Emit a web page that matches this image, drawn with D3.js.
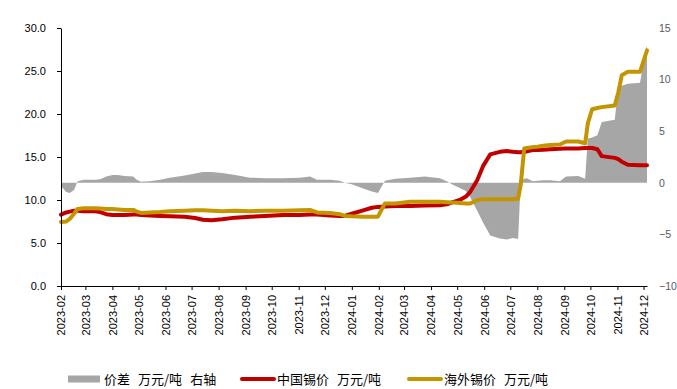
<!DOCTYPE html>
<html><head><meta charset="utf-8">
<script src="https://cdn.jsdelivr.net/npm/d3@7"></script>
<style>
html,body{margin:0;padding:0;background:#fff;}
svg{display:block;}
</style></head>
<body>
<svg id="chart" width="677" height="389"></svg>
<script>
const dates = ["2023-02-01","2023-02-07","2023-02-11","2023-02-16","2023-02-20","2023-02-27","2023-03-12","2023-03-18","2023-03-25","2023-04-01",
"2023-04-07","2023-04-15","2023-04-25","2023-04-29","2023-05-04","2023-05-14","2023-05-26","2023-06-06","2023-06-23","2023-07-05",
"2023-07-14","2023-07-24","2023-08-05","2023-08-20","2023-09-06","2023-09-23","2023-10-14","2023-11-02","2023-11-14","2023-11-22",
"2023-12-07","2023-12-18","2023-12-24","2024-01-01","2024-01-14","2024-01-24","2024-01-31","2024-02-08","2024-02-20","2024-03-08",
"2024-03-25","2024-04-11","2024-04-19","2024-04-26","2024-05-04","2024-05-11","2024-05-16","2024-05-24","2024-05-31","2024-06-08",
"2024-06-19","2024-06-27","2024-07-04","2024-07-10","2024-07-13","2024-07-17","2024-07-20","2024-07-27","2024-08-01","2024-08-08",
"2024-08-16","2024-08-27","2024-09-03","2024-09-17","2024-09-25","2024-09-28","2024-10-03","2024-10-09","2024-10-14","2024-10-29",
"2024-11-02","2024-11-06","2024-11-13","2024-11-27","2024-12-03","2024-12-05"];

const china = [8.3,8.55,8.65,8.75,8.75,8.7,8.7,8.6,8.35,8.25,
8.25,8.25,8.3,8.3,8.25,8.2,8.15,8.1,8.05,7.9,
7.7,7.65,7.75,7.95,8.05,8.15,8.25,8.25,8.3,8.3,
8.2,8.15,8.15,8.4,8.8,9.1,9.2,9.25,9.3,9.3,
9.35,9.4,9.5,9.75,10.0,10.4,10.95,12.3,14.0,15.3,
15.6,15.7,15.6,15.55,15.55,15.6,15.65,15.8,15.8,15.85,
15.9,15.95,16.0,16.0,16.05,16.05,16.05,15.9,15.1,14.9,
14.75,14.45,14.1,14.05,14.05,14.05];

const overseas = [7.45,7.5,7.8,8.4,8.95,9.05,9.05,9.0,8.95,8.95,
8.9,8.85,8.85,8.65,8.5,8.55,8.6,8.7,8.75,8.8,
8.8,8.75,8.7,8.75,8.7,8.75,8.75,8.8,8.85,8.55,
8.5,8.35,8.15,8.1,8.06,8.06,8.06,9.6,9.6,9.8,
9.8,9.8,9.75,9.7,9.65,9.6,9.6,10.0,10.1,10.1,
10.1,10.1,10.1,10.15,11.8,16.0,16.05,16.15,16.2,16.3,
16.4,16.45,16.8,16.8,16.6,18.9,20.55,20.7,20.8,21.0,
22.5,24.5,24.9,24.9,26.8,27.4];

const spread = [-0.3,-0.9,-1.0,-0.7,0.15,0.3,0.3,0.35,0.6,0.75,
0.75,0.65,0.6,0.3,0.1,0.15,0.3,0.5,0.7,0.9,
1.05,1.05,0.95,0.75,0.5,0.45,0.45,0.5,0.6,0.3,
0.3,0.2,0.0,-0.15,-0.55,-0.85,-1.0,0.2,0.4,0.5,
0.6,0.45,0.15,-0.2,-0.5,-0.8,-1.4,-2.7,-3.9,-5.1,
-5.4,-5.5,-5.35,-5.45,0.2,0.4,0.45,0.15,0.2,0.25,
0.25,0.15,0.6,0.65,0.4,4.3,4.4,4.6,5.9,6.1,
9.3,9.4,9.6,9.7,12.7,13.3];

const leftTicks = [0,5,10,15,20,25,30];
const rightTicks = [-10,-5,0,5,10,15];
const xStart = "2023-02-01", xEnd = "2024-12-05";
const legendItems = [
  {parts:["价差","万元/吨","右轴"], type:"area", color:"#A6A6A6"},
  {parts:["中国锡价","万元/吨"], type:"line", color:"#C00000"},
  {parts:["海外锡价","万元/吨"], type:"line", color:"#C39500"}
];

const parse = d3.timeParse("%Y-%m-%d");
const data = dates.map((d,i)=>({date:parse(d), c:china[i], o:overseas[i], s:spread[i]}));

const svg = d3.select("#chart");
const L = 61, R = 647, T = 28, B = 286;

const x = d3.scaleTime().domain([parse(xStart), parse(xEnd)]).range([L, R]);
const yL = d3.scaleLinear().domain([0,30]).range([B, T]);
const yR = d3.scaleLinear().domain([-10,15]).range([B, T]);

// spread area
svg.append("path").datum(data)
  .attr("fill","#A6A6A6")
  .attr("d", d3.area().x(d=>x(d.date)).y0(yR(0)).y1(d=>yR(d.s)));

const lineC = d3.line().x(d=>x(d.date)).y(d=>yL(d.c));
const lineO = d3.line().x(d=>x(d.date)).y(d=>yL(d.o));
svg.append("path").datum(data).attr("fill","none").attr("stroke","#C00000")
  .attr("stroke-width",4).attr("stroke-linejoin","round").attr("stroke-linecap","round").attr("d",lineC);
svg.append("path").datum(data).attr("fill","none").attr("stroke","#C39500")
  .attr("stroke-width",4).attr("stroke-linejoin","round").attr("stroke-linecap","round").attr("d",lineO);

// left axis
const gL = svg.append("g").attr("transform",`translate(${L},0)`)
  .call(d3.axisLeft(yL).tickValues(leftTicks).tickFormat(d3.format(".1f")).tickSize(4).tickSizeOuter(0));
gL.select(".domain").attr("stroke","#000");
gL.selectAll(".tick line").attr("stroke","#000");
gL.selectAll(".tick text").attr("font-family","Liberation Sans, Arial, sans-serif")
  .attr("font-size",11).attr("fill","#000").attr("x",-15);

// right axis (labels only)
const gR = svg.append("g").attr("transform",`translate(${R},0)`)
  .call(d3.axisRight(yR).tickValues(rightTicks).tickFormat(d3.format("d")).tickSize(0));
gR.select(".domain").remove();
gR.selectAll(".tick text").attr("font-family","Liberation Sans, Arial, sans-serif")
  .attr("font-size",10.5).attr("fill","#595959").attr("x",12);

// bottom axis
const months = d3.timeMonth.range(parse("2023-02-01"), parse("2024-12-02"));
const gB = svg.append("g").attr("transform",`translate(0,${B})`)
  .call(d3.axisBottom(x).tickValues(months).tickFormat(d3.timeFormat("%Y-%m")).tickSize(4).tickSizeOuter(0));
gB.select(".domain").attr("stroke","#000");
gB.selectAll(".tick line").attr("stroke","#000");
gB.selectAll(".tick text")
  .attr("font-family","Liberation Sans, Arial, sans-serif").attr("font-size",11).attr("fill","#000")
  .attr("transform","rotate(-90)").attr("text-anchor","end")
  .attr("x",-9).attr("y",0).attr("dy","0.35em");

// legend
const legX = [68, 241, 408];
const legY = 379;
legendItems.forEach((it,i)=>{
  const g = svg.append("g");
  if (it.type==="area") {
    g.append("rect").attr("x",legX[i]).attr("y",legY-3.5).attr("width",32).attr("height",7).attr("fill",it.color);
  } else {
    g.append("line").attr("x1",legX[i]+1).attr("x2",legX[i]+33).attr("y1",legY).attr("y2",legY)
      .attr("stroke",it.color).attr("stroke-width",4).attr("stroke-linecap","round");
  }
  const t = g.append("text").attr("x",legX[i]+36).attr("y",legY).attr("dy","0.36em")
    .attr("font-family","Noto Sans CJK SC, sans-serif").attr("font-size",13).attr("fill","#000");
  it.parts.forEach((p,j)=>{
    t.append("tspan").attr("dx", j===0?0:8).text(p);
  });
});
</script>
</body></html>
